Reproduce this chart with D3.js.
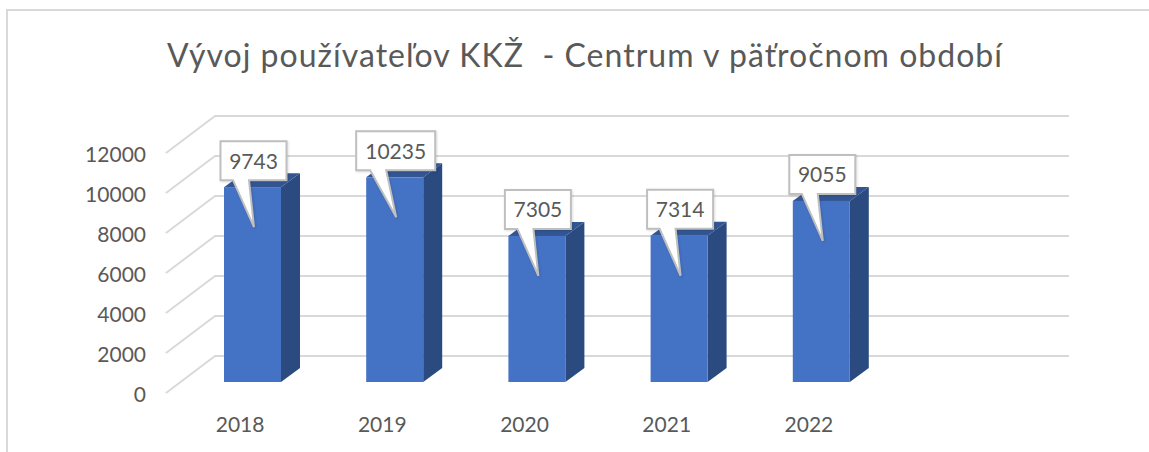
<!DOCTYPE html>
<head>
<meta charset="utf-8">
</head>
<style>
html, body { margin: 0; padding: 0; background: #fff; }
text { font-family: Lato, sans-serif; fill: #595959; }
.grid { stroke: #d9d9d9; stroke-width: 2; fill: none; }
.front { fill: #4472c4; }
.top { fill: #335693; }
.side { fill: #2a4a80; }
.callout { fill: #fff; stroke: #bfbfbf; stroke-width: 2; stroke-linejoin: miter; }
.axis path, .axis line { display: none; }
</style>
<body>
<svg id="chart" width="1149" height="452"></svg>

<script src="https://d3js.org/d3.v7.min.js"></script>
<script>

var titleText = "Vývoj používateľov KKŽ  - Centrum v päťročnom období";
var years = ["2018", "2019", "2020", "2021", "2022"];
var users = [9743, 10235, 7305, 7314, 9055];
var yTicks = [0, 2000, 4000, 6000, 8000, 10000, 12000];

var svg = d3.select("#chart");

// chart frame, only left and top show in the screenshot
svg.append("path")
    .attr("d", "M7,452V10H1149")
    .attr("fill", "none")
    .attr("stroke", "#d9d9d9")
    .attr("stroke-width", 2);

svg.append("text")
    .attr("x", 585)
    .attr("y", 67)
    .attr("text-anchor", "middle")
    .attr("font-size", 32)
    .attr("letter-spacing", 1.02)
    .style("white-space", "pre")
    .text(titleText);

// front plane of the floor/wall box
var y = d3.scaleLinear().domain([0, 12000]).range([393, 153]);
var x = d3.scaleBand().domain(years).range([166, 166 + 5 * 142.2]);

var wallDx = 49, wallDy = -37, wallRight = 1069;

// gridlines: slanted on the side wall, then straight along the back wall
svg.append("g").selectAll("path")
    .data(yTicks)
    .enter().append("path")
      .attr("class", "grid")
      .attr("d", function(d) {
        return "M166," + y(d) + "L" + (166 + wallDx) + "," + (y(d) + wallDy) + "H" + wallRight;
      });

svg.append("g")
    .attr("class", "axis")
    .attr("transform", "translate(146,0)")
    .call(d3.axisLeft(y).tickValues(yTicks).tickFormat(d3.format("d")).tickSize(0).tickPadding(0))
    .call(function(g) {
      g.selectAll("text").attr("font-size", 21).attr("dy", "0.42em").style("font-family", "Lato, sans-serif");
    });

svg.append("g")
    .attr("class", "axis")
    .attr("transform", "translate(3,432)")
    .call(d3.axisBottom(x).tickSize(0).tickPadding(0))
    .call(function(g) {
      g.selectAll("text").attr("font-size", 21).attr("dy", 0).style("font-family", "Lato, sans-serif");
    });

// bars sit a bit in from the front plane
var barW = 57, barDx = 19, barDy = -14, barBase = 382;
var barH = d3.scaleLinear().domain([0, 12000]).range([0, 240]);
function barX(i) { return x(years[i]) + 58; }
function barTop(d) { return barBase - barH(d); }

var bars = svg.append("g").selectAll("g")
    .data(users)
    .enter().append("g");

bars.append("path")
    .attr("class", "side")
    .attr("d", function(d, i) {
      var l = barX(i) + barW;
      return "M" + l + "," + barBase + "l" + barDx + "," + barDy + "V" + (barTop(d) + barDy) + "l" + (-barDx) + "," + (-barDy) + "Z";
    });

bars.append("path")
    .attr("class", "top")
    .attr("d", function(d, i) {
      return "M" + barX(i) + "," + barTop(d) + "l" + barDx + "," + barDy + "h" + barW + "l" + (-barDx) + "," + (-barDy) + "Z";
    });

bars.append("rect")
    .attr("class", "front")
    .attr("x", function(d, i) { return barX(i); })
    .attr("y", function(d) { return barTop(d); })
    .attr("width", barW)
    .attr("height", function(d) { return barH(d); });

// data labels as callouts, tail points down into the bar
var calloutH = 39;
var labels = svg.append("g").selectAll("g")
    .data(users)
    .enter().append("g");

labels.append("path")
    .attr("class", "callout")
    .attr("filter", "drop-shadow(1px 1px 1px rgba(0,0,0,0.12))")
    .attr("d", function(d, i) {
      var w = String(d).length > 4 ? 79 : 66;
      var cx = barX(i) + 29.5;
      var left = cx - w / 2, right = cx + w / 2;
      var bottom = barTop(d) - 7, top = bottom - calloutH;
      var b0 = left + (w > 70 ? 14 : 12.5);
      var b1 = b0 + 16;
      var tipX = barX(i) + 30, tipY = barTop(d) + 40;
      return "M" + left + "," + top + "H" + right + "V" + bottom + "H" + b1 +
        "L" + tipX + "," + tipY + "L" + b0 + "," + bottom + "H" + left + "Z";
    });

labels.append("text")
    .attr("x", function(d, i) { return barX(i) + 29.5; })
    .attr("y", function(d) { return barTop(d) - 7 - calloutH / 2 + 8; })
    .attr("text-anchor", "middle")
    .attr("font-size", 21)
    .text(function(d) { return d; });

</script>
</body>
